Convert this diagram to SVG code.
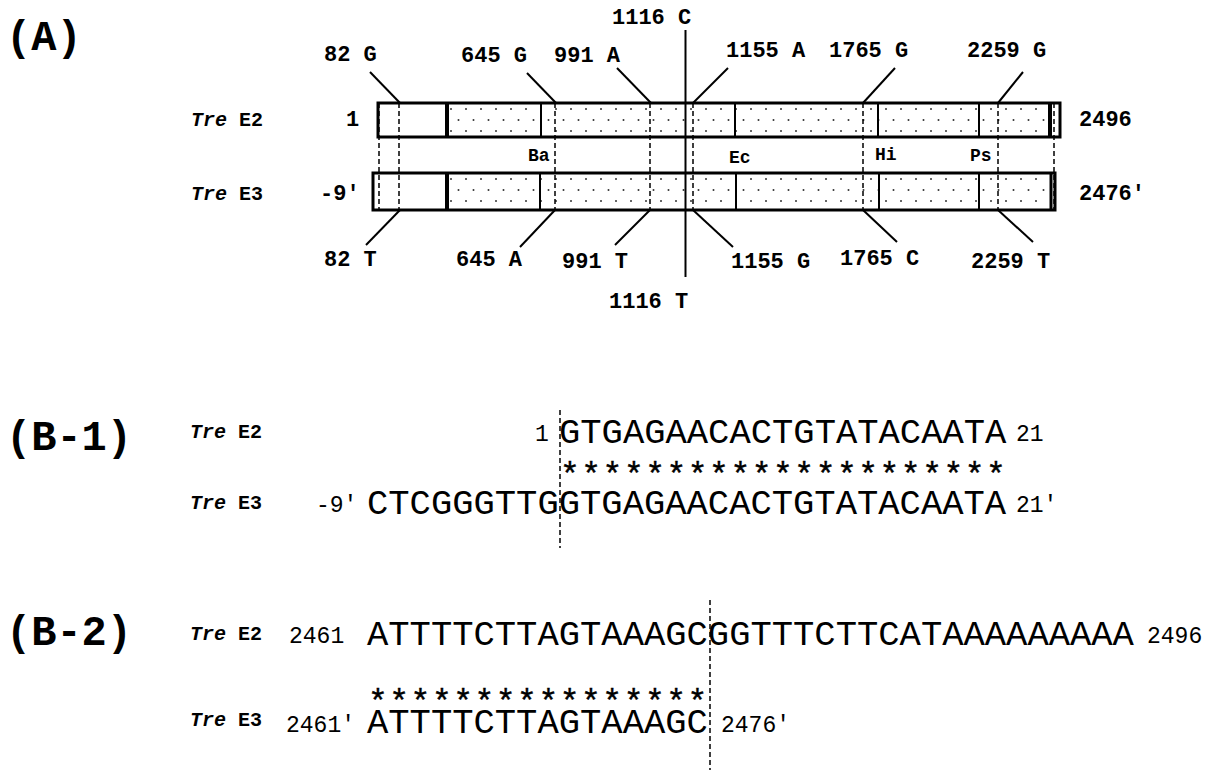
<svg xmlns="http://www.w3.org/2000/svg" width="1224" height="774" viewBox="0 0 1224 774">
<defs>
<pattern id="stip" patternUnits="userSpaceOnUse" x="447" y="103" width="15" height="22">
<circle cx="4" cy="6" r="1" fill="#333"/>
<circle cx="11.5" cy="17" r="1" fill="#333"/>
</pattern>
<pattern id="stip2" patternUnits="userSpaceOnUse" x="447" y="173" width="15" height="22">
<circle cx="4" cy="6" r="1" fill="#333"/>
<circle cx="11.5" cy="17" r="1" fill="#333"/>
</pattern>
</defs>
<style>
text{font-family:"Liberation Mono","Courier New",monospace;fill:#000}
.lbl{font-size:22px;font-weight:bold}
.rs{font-size:18px;font-weight:bold}
.panel{font-size:42px;font-weight:bold}
.seq{font-size:35.5px}
.star{font-size:33px;letter-spacing:1.5px;stroke:#000;stroke-width:0.4}
.num{font-size:23px}
.tre{font-size:20px;font-weight:bold}
.it{font-style:italic}
.dash{stroke:#000;stroke-width:1.5;stroke-dasharray:5 3;fill:none}
.lead{stroke:#000;stroke-width:2;fill:none}
.sep{stroke:#000;stroke-width:2}
.bar{stroke:#000;stroke-width:3}
</style>
<rect width="1224" height="774" fill="#fff"/>

<g id="panelA">
<text class="panel" x="6" y="50">(A)</text>
<g id="treE2-label"><text class="tre" x="191" y="126"><tspan class="it">Tre</tspan> E2</text><text class="lbl" x="346" y="126">1</text><text class="lbl" x="1079" y="126">2496</text></g>
<g id="treE3-label"><text class="tre" x="191" y="200"><tspan class="it">Tre</tspan> E3</text><text class="lbl" x="320" y="200">-9'</text><text class="lbl" x="1079" y="200">2476'</text></g>

<g id="bar-E2">
<rect x="378" y="103" width="682" height="34" fill="#fff"/>
<rect x="447" y="103" width="604" height="34" fill="url(#stip)"/>
<line class="sep" x1="541" y1="103" x2="541" y2="137"/>
<line class="sep" x1="735" y1="103" x2="735" y2="137"/>
<line class="sep" x1="878" y1="103" x2="878" y2="137"/>
<line class="sep" x1="979" y1="103" x2="979" y2="137"/>
<line x1="447" y1="103" x2="447" y2="137" stroke="#000" stroke-width="4"/>
<line x1="1050" y1="103" x2="1050" y2="137" stroke="#000" stroke-width="4"/>
<rect class="bar" x="378" y="103" width="682" height="34" fill="none"/>
</g>

<g id="bar-E3">
<rect x="373" y="173" width="682" height="37" fill="#fff"/>
<rect x="447" y="173" width="603" height="37" fill="url(#stip2)"/>
<line class="sep" x1="540" y1="173" x2="540" y2="210"/>
<line class="sep" x1="736" y1="173" x2="736" y2="210"/>
<line class="sep" x1="879" y1="173" x2="879" y2="210"/>
<line class="sep" x1="979" y1="173" x2="979" y2="210"/>
<line x1="447" y1="173" x2="447" y2="210" stroke="#000" stroke-width="4"/>
<line x1="1051" y1="173" x2="1051" y2="210" stroke="#000" stroke-width="3"/>
<rect class="bar" x="373" y="173" width="682" height="37" fill="none"/>
</g>

<g id="sites">
<text class="rs" x="528" y="161">Ba</text>
<text class="rs" x="729" y="163">Ec</text>
<text class="rs" x="875" y="160">Hi</text>
<text class="rs" x="970" y="161">Ps</text>
</g>

<g id="connectors">
<line class="dash" x1="379" y1="103" x2="379" y2="210"/>
<line class="dash" x1="399" y1="103" x2="399" y2="210"/>
<line class="dash" x1="555" y1="103" x2="555" y2="210"/>
<line class="dash" x1="650" y1="103" x2="650" y2="210"/>
<line class="dash" x1="693" y1="103" x2="693" y2="210"/>
<line class="dash" x1="863" y1="103" x2="863" y2="210"/>
<line class="dash" x1="998" y1="103" x2="998" y2="210"/>
<line class="dash" x1="1054" y1="103" x2="1054" y2="210"/>
<line class="lead" x1="685.5" y1="30" x2="685.5" y2="277"/>
<line class="lead" x1="370" y1="72" x2="400" y2="103"/>
<line class="lead" x1="527" y1="73" x2="556" y2="103"/>
<line class="lead" x1="617" y1="68" x2="651" y2="103"/>
<line class="lead" x1="728" y1="68" x2="693" y2="103"/>
<line class="lead" x1="895" y1="68" x2="863" y2="103"/>
<line class="lead" x1="1023" y1="72" x2="998" y2="103"/>
<line class="lead" x1="400" y1="210" x2="366" y2="245"/>
<line class="lead" x1="555" y1="210" x2="520" y2="247"/>
<line class="lead" x1="650" y1="210" x2="615" y2="245"/>
<line class="lead" x1="693" y1="210" x2="733" y2="247"/>
<line class="lead" x1="863" y1="210" x2="897" y2="242"/>
<line class="lead" x1="998" y1="210" x2="1033" y2="242"/>
</g>

<g id="snp-labels">
<text class="lbl" x="324" y="61">82 G</text>
<text class="lbl" x="461" y="62">645 G</text>
<text class="lbl" x="554" y="62">991 A</text>
<text class="lbl" x="612" y="24">1116 C</text>
<text class="lbl" x="726" y="57">1155 A</text>
<text class="lbl" x="829" y="57">1765 G</text>
<text class="lbl" x="967" y="57">2259 G</text>
<text class="lbl" x="324" y="266">82 T</text>
<text class="lbl" x="456" y="266">645 A</text>
<text class="lbl" x="562" y="268">991 T</text>
<text class="lbl" x="609" y="308">1116 T</text>
<text class="lbl" x="731" y="268">1155 G</text>
<text class="lbl" x="840" y="265">1765 C</text>
<text class="lbl" x="971" y="268">2259 T</text>
</g>
</g>

<g id="panelB1">
<text class="panel" x="6" y="450">(B-1)</text>
<text class="tre" x="190" y="438"><tspan class="it">Tre</tspan> E2</text>
<text class="tre" x="190" y="509"><tspan class="it">Tre</tspan> E3</text>
<text class="num" x="535" y="441">1</text>
<text class="seq" x="559" y="443">GTGAGAACACTGTATACAATA</text>
<text class="num" x="1016" y="441">21</text>
<text class="star" x="560" y="485">*********************</text>
<text class="num" x="316" y="512">-9'</text>
<text class="seq" x="367" y="514">CTCGGGTTGGTGAGAACACTGTATACAATA</text>
<text class="num" x="1016" y="512">21'</text>
<line class="dash" x1="560" y1="410" x2="560" y2="548"/>
</g>

<g id="panelB2">
<text class="panel" x="6" y="645">(B-2)</text>
<text class="tre" x="190" y="640"><tspan class="it">Tre</tspan> E2</text>
<text class="tre" x="190" y="726"><tspan class="it">Tre</tspan> E3</text>
<text class="num" x="289" y="643">2461</text>
<text class="seq" x="367" y="645">ATTTTCTTAGTAAAGCGGTTTCTTCATAAAAAAAAA</text>
<text class="num" x="1147" y="643">2496</text>
<text class="star" x="368" y="712">****************</text>
<text class="num" x="286" y="732">2461'</text>
<text class="seq" x="367" y="733">ATTTTCTTAGTAAAGC</text>
<text class="num" x="721" y="732">2476'</text>
<line class="dash" x1="710" y1="600" x2="710" y2="770"/>
</g>
</svg>
